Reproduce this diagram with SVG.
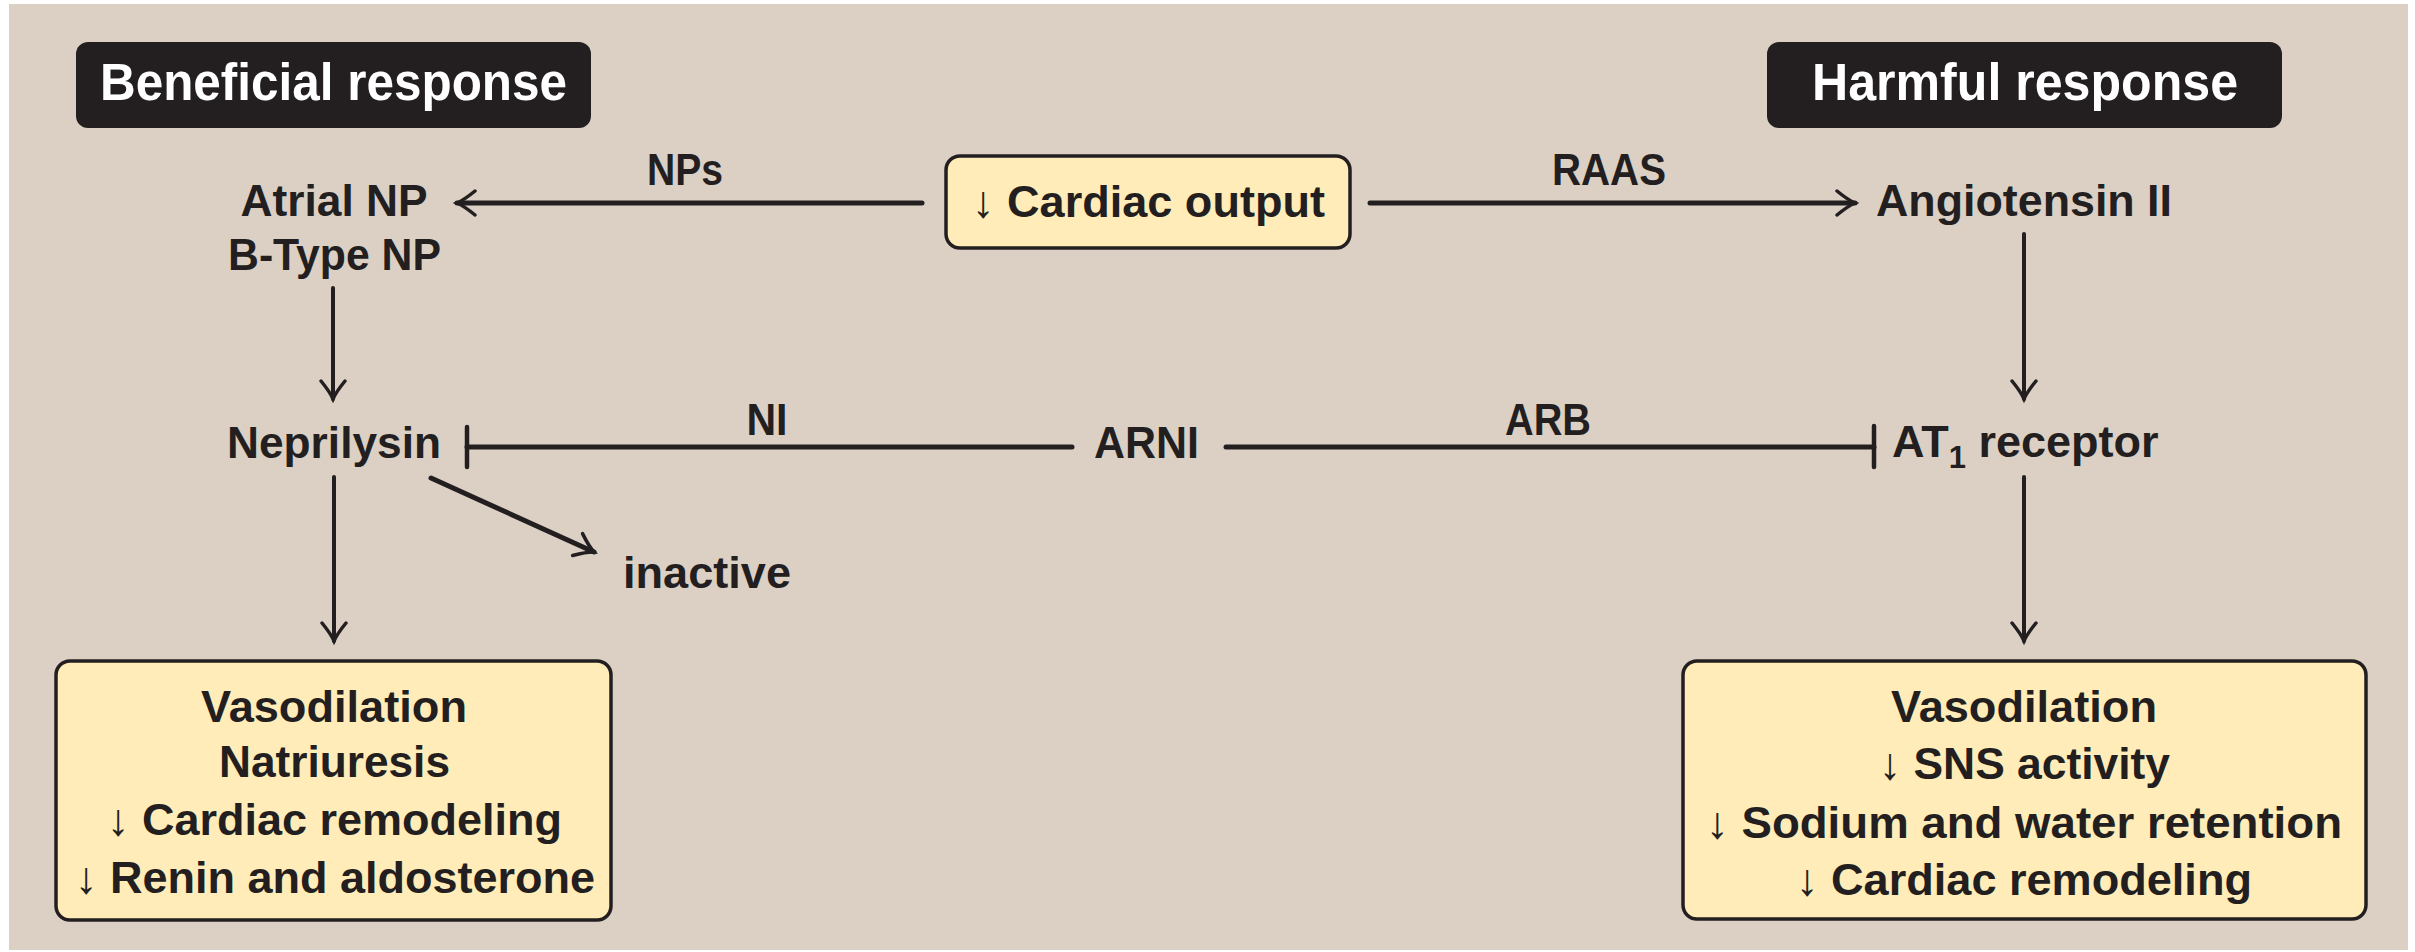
<svg xmlns="http://www.w3.org/2000/svg" width="2415" height="952" viewBox="0 0 2415 952">
  <style>
    .t { font-family: "Liberation Sans", Arial, sans-serif; font-weight: bold; fill: #231f20; font-size: 45px; }
    .hdr { font-family: "Liberation Sans", Arial, sans-serif; font-weight: bold; fill: #ffffff; font-size: 51px; }
    .arr { font-weight: normal; }
    .hbox { fill: #231f20; }
    .ybox { fill: #ffecb8; stroke: #231f20; stroke-width: 3.5; }
    .ln { stroke: #231f20; stroke-width: 5; fill: none; stroke-linecap: round; }
    .lv { stroke: #231f20; stroke-width: 4; fill: none; stroke-linecap: round; }
    .bar { stroke: #231f20; stroke-width: 4.5; fill: none; stroke-linecap: round; }
  </style>
  <defs>
    <marker id="ah" viewBox="-22 -14 26 28" refX="0" refY="0" markerWidth="26" markerHeight="28" markerUnits="userSpaceOnUse" orient="auto">
      <path d="M -18 -12 Q -7 -3 0 0 Q -7 3 -18 12" fill="none" stroke="#231f20" stroke-width="3.5" stroke-linecap="round" stroke-linejoin="miter"/>
    </marker>
  </defs>

  <rect x="9" y="4" width="2399" height="946" fill="#dcd0c4"/>

  <g id="beneficial-header">
    <rect class="hbox" x="76" y="42" width="515" height="86" rx="12"/>
    <text class="hdr" x="333.5" y="100" text-anchor="middle" textLength="467" lengthAdjust="spacingAndGlyphs">Beneficial response</text>
  </g>
  <g id="harmful-header">
    <rect class="hbox" x="1767" y="42" width="515" height="86" rx="12"/>
    <text class="hdr" x="2025" y="100" text-anchor="middle" textLength="426" lengthAdjust="spacingAndGlyphs">Harmful response</text>
  </g>

  <g id="cardiac-output">
    <rect class="ybox" x="946" y="156" width="404" height="92" rx="14"/>
    <text class="t" x="1148.5" y="217" text-anchor="middle" textLength="353" lengthAdjust="spacingAndGlyphs"><tspan class="arr">↓</tspan> Cardiac output</text>
  </g>

  <g id="natriuretic-peptides">
    <text class="t" x="334" y="216" text-anchor="middle" textLength="187" lengthAdjust="spacingAndGlyphs">Atrial NP</text>
    <text class="t" x="334.5" y="270" text-anchor="middle" textLength="213" lengthAdjust="spacingAndGlyphs">B-Type NP</text>
  </g>

  <g id="angiotensin-ii">
    <text class="t" x="2024" y="216" text-anchor="middle" textLength="296" lengthAdjust="spacingAndGlyphs">Angiotensin II</text>
  </g>

  <g id="neprilysin">
    <text class="t" x="334" y="458" text-anchor="middle" textLength="214" lengthAdjust="spacingAndGlyphs">Neprilysin</text>
  </g>

  <g id="arni">
    <text class="t" x="1146.5" y="458" text-anchor="middle" textLength="105" lengthAdjust="spacingAndGlyphs">ARNI</text>
  </g>

  <g id="at1-receptor">
    <text class="t" x="1892" y="457">AT<tspan font-size="31" dy="11">1</tspan><tspan dy="-11"> receptor</tspan></text>
  </g>

  <g id="inactive">
    <text class="t" x="707" y="588" text-anchor="middle" textLength="168" lengthAdjust="spacingAndGlyphs">inactive</text>
  </g>

  <g id="beneficial-effects">
    <rect class="ybox" x="56" y="661" width="555" height="259" rx="14"/>
    <text class="t" x="334" y="722" text-anchor="middle" textLength="266" lengthAdjust="spacingAndGlyphs">Vasodilation</text>
    <text class="t" x="334.5" y="777" text-anchor="middle" textLength="231" lengthAdjust="spacingAndGlyphs">Natriuresis</text>
    <text class="t" x="334.5" y="835" text-anchor="middle" textLength="455" lengthAdjust="spacingAndGlyphs"><tspan class="arr">↓</tspan> Cardiac remodeling</text>
    <text class="t" x="335" y="893" text-anchor="middle" textLength="520" lengthAdjust="spacingAndGlyphs"><tspan class="arr">↓</tspan> Renin and aldosterone</text>
  </g>

  <g id="harmful-effects">
    <rect class="ybox" x="1683" y="661" width="683" height="258" rx="14"/>
    <text class="t" x="2024" y="722" text-anchor="middle" textLength="266" lengthAdjust="spacingAndGlyphs">Vasodilation</text>
    <text class="t" x="2024.5" y="779" text-anchor="middle" textLength="291" lengthAdjust="spacingAndGlyphs"><tspan class="arr">↓</tspan> SNS activity</text>
    <text class="t" x="2024" y="838" text-anchor="middle" textLength="636" lengthAdjust="spacingAndGlyphs"><tspan class="arr">↓</tspan> Sodium and water retention</text>
    <text class="t" x="2024" y="895" text-anchor="middle" textLength="456" lengthAdjust="spacingAndGlyphs"><tspan class="arr">↓</tspan> Cardiac remodeling</text>
  </g>

  <g id="connectors">
    <line class="ln" x1="922" y1="203" x2="457" y2="203" marker-end="url(#ah)"/>
    <text class="t" x="685" y="185" text-anchor="middle" textLength="76" lengthAdjust="spacingAndGlyphs">NPs</text>
    <line class="ln" x1="1370" y1="203" x2="1855" y2="203" marker-end="url(#ah)"/>
    <text class="t" x="1609" y="185" text-anchor="middle" textLength="114" lengthAdjust="spacingAndGlyphs">RAAS</text>
    <line class="lv" x1="333" y1="288" x2="333" y2="399" marker-end="url(#ah)"/>
    <line class="lv" x1="2024" y1="234" x2="2024" y2="399" marker-end="url(#ah)"/>
    <line class="ln" x1="1072" y1="447" x2="467" y2="447"/>
    <line class="bar" x1="467" y1="427" x2="467" y2="467"/>
    <text class="t" x="767" y="435" text-anchor="middle" textLength="41" lengthAdjust="spacingAndGlyphs">NI</text>
    <line class="ln" x1="1226" y1="447" x2="1874" y2="447"/>
    <line class="bar" x1="1874" y1="426" x2="1874" y2="467"/>
    <text class="t" x="1548" y="435" text-anchor="middle" textLength="86" lengthAdjust="spacingAndGlyphs">ARB</text>
    <line class="lv" x1="334" y1="477" x2="334" y2="641" marker-end="url(#ah)"/>
    <line class="ln" x1="431" y1="478" x2="594" y2="552" marker-end="url(#ah)"/>
    <line class="lv" x1="2024" y1="477" x2="2024" y2="641" marker-end="url(#ah)"/>
  </g>
</svg>
